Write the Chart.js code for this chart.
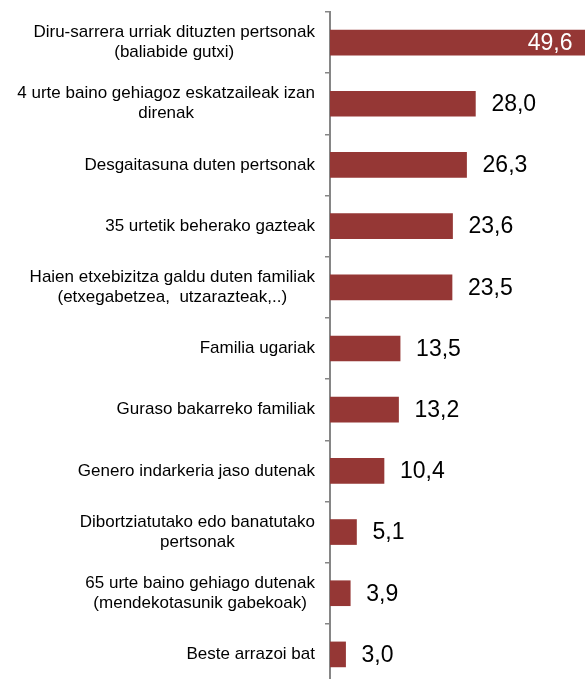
<!DOCTYPE html>
<html>
<head>
<meta charset="utf-8">
<script src="https://cdn.jsdelivr.net/npm/chart.js@4.4.1/dist/chart.umd.min.js"></script>
<style>
  html, body { margin: 0; padding: 0; background: #fff; overflow: hidden; }
  #wrap { width: 585px; height: 679px; overflow: hidden; }
</style>
</head>
<body>
<div id="wrap"><canvas id="chart" width="600" height="700"></canvas></div>
<script>
const categories = [
  ["Diru-sarrera urriak dituzten pertsonak", "(baliabide gutxi)"],
  ["4 urte baino gehiagoz eskatzaileak izan", "direnak"],
  ["Desgaitasuna duten pertsonak"],
  ["35 urtetik beherako gazteak"],
  ["Haien etxebizitza galdu duten familiak", "(etxegabetzea,  utzarazteak,..)"],
  ["Familia ugariak"],
  ["Guraso bakarreko familiak"],
  ["Genero indarkeria jaso dutenak"],
  ["Dibortziatutako edo banatutako", "pertsonak"],
  ["65 urte baino gehiago dutenak", "(mendekotasunik gabekoak)"],
  ["Beste arrazoi bat"]
];
const values = [49.6, 28.0, 26.3, 23.6, 23.5, 13.5, 13.2, 10.4, 5.1, 3.9, 3.0];

const BAR_COLOR = "#953735";
const AXIS_COLOR = "#868686";

const fmt = v => v.toFixed(1).replace(".", ",");

// category names (centred lines, right-aligned block) and value labels
const labelPlugin = {
  id: "labels",
  afterDatasetsDraw(chart) {
    const ctx = chart.ctx;
    const y = chart.scales.y;
    const x = chart.scales.x;
    const lineH = 20;
    ctx.save();
    ctx.textBaseline = "middle";

    ctx.font = "17px 'Liberation Sans', Arial, sans-serif";
    ctx.fillStyle = "#000";
    categories.forEach((lines, i) => {
      const cy = y.getPixelForValue(i);
      const widest = Math.max(...lines.map(l => ctx.measureText(l).width));
      const cx = y.right - 15 - widest / 2;
      ctx.textAlign = "center";
      lines.forEach((l, k) => {
        ctx.fillText(l, cx, cy + (k - (lines.length - 1) / 2) * lineH);
      });
    });

    ctx.font = "23px 'Liberation Sans', Arial, sans-serif";
    values.forEach((v, i) => {
      const cy = y.getPixelForValue(i) + 1;
      const px = x.getPixelForValue(v);
      if (px > 560) {
        ctx.fillStyle = "#fff";
        ctx.textAlign = "right";
        ctx.fillText(fmt(v), px - 15, cy);
      } else {
        ctx.fillStyle = "#000";
        ctx.textAlign = "left";
        ctx.fillText(fmt(v), px + 16, cy);
      }
    });
    ctx.restore();
  }
};

new Chart(document.getElementById("chart"), {
  type: "bar",
  data: {
    labels: categories,
    datasets: [{
      data: values,
      backgroundColor: BAR_COLOR,
      borderWidth: 0,
      barThickness: 25
    }]
  },
  options: {
    indexAxis: "y",
    responsive: false,
    animation: false,
    devicePixelRatio: 1,
    layout: { padding: { top: 12, bottom: 15, left: 0, right: 0 } },
    plugins: { legend: { display: false }, tooltip: { enabled: false } },
    scales: {
      x: { display: false, min: 0, max: 52 },
      y: {
        offset: true,
        afterFit(scale) { scale.width = 330; },
        ticks: { display: false },
        grid: {
          offset: true,
          drawOnChartArea: false,
          drawTicks: true,
          tickLength: 5,
          color: AXIS_COLOR,
          lineWidth: 1.5
        },
        border: { display: true, color: AXIS_COLOR, width: 2 }
      }
    }
  },
  plugins: [labelPlugin]
});
</script>
</body>
</html>
